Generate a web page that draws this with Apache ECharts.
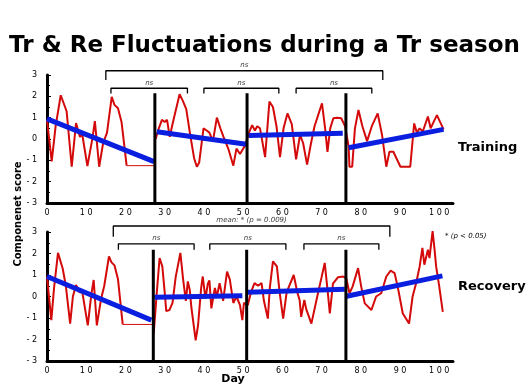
<!DOCTYPE html>
<html><head><meta charset="utf-8">
<script src="https://cdn.jsdelivr.net/npm/echarts@6/dist/echarts.min.js"></script>
<style>html,body{margin:0;padding:0;background:#fff}#c{width:529px;height:392px}</style>
</head><body><div id="c"></div>
<script>
// ---------- data (day, component score) ----------
const xTicks = [0,10,20,30,40,50,60,70,80,90,100];
const yTicks = [-3,-2,-1,0,1,2,3];

const trainRedA = [[0,0.9],[1.2,-1.05],[2.2,0.6],[3.5,2.05],[5.0,1.3],[6.3,-1.3],[7.4,0.75],[8.4,0.1],[9.0,0.2],[10.3,-1.27],[11.6,0.05],[12.2,0.84],[13.3,-1.3],[14.3,-0.2],[15.3,0.3],[16.5,1.98],[17.2,1.6],[18.1,1.44],[19.0,0.8],[20.3,-1.25]];
const trainFlat = [[20.3,-1.25],[27.3,-1.25]];
const trainRedB = [[27.7,0.0],[28.5,0.5],[29.3,0.9],[30.0,0.8],[30.6,0.9],[31.3,0.1],[32.0,0.7],[33.8,2.1],[34.6,1.8],[35.5,1.4],[36.5,0.2],[37.5,-0.9],[38.2,-1.3],[38.8,-1.1],[39.9,0.5],[40.7,0.4],[41.4,0.3],[42.3,-0.1],[43.3,1.0],[44.2,0.5],[45.0,0.1],[46.3,-0.5],[47.5,-1.25],[48.3,-0.45],[49.2,-0.7],[50.5,-0.3],[51.0,-0.3],
  [51.6,0.35],[52.3,0.65],[53.0,0.4],[53.6,0.6],[54.3,0.5],[55.6,-0.85],[56.7,1.75],[57.6,1.5],[58.5,0.6],[59.4,-0.85],[60.3,0.5],[61.3,1.2],[62.4,0.7],[63.5,-0.95],[64.5,0.2],[65.3,-0.2],[66.3,-1.2],[67.3,-0.2],[68.2,0.6],[70.1,1.67],[70.9,0.5],[71.5,-0.6],[72.2,0.5],[73.0,0.97],[74.0,1.0],[75.0,0.97],[76.0,0.6],
  [76.9,-0.36],[77.1,-1.3],[77.8,-1.3],[78.5,0.5],[79.4,1.36],[80.4,0.6],[81.6,-0.1],[82.8,0.6],[84.3,1.2],[85.4,0.2],[86.5,-1.3],[87.3,-0.6],[88.3,-0.6],[90.1,-1.3],[92.6,-1.3],[93.6,0.73],[94.3,0.3],[95.0,0.5],[95.8,0.35],[97.1,1.05],[97.8,0.5],[98.3,0.7],[99.4,1.12],[100.2,0.8],[101.1,0.45]];
const trainFits = [[0,0.94,27.3,-1.06],[28,0.34,50.8,-0.25],[51.4,0.16,75.4,0.27],[76.9,-0.41,101.1,0.45]];
const trainBreaks = [27.5,51.0,76.2];
const trainBrackets = [[15.0,85.6,'outer'],[16.3,35.8,'inner'],[40.0,59.1,'inner'],[63.5,82.8,'inner']];
const trainBracketText = ['ns','ns','ns','ns'];

const recRedA = [[0,0.93],[1.1,-1.1],[1.8,0.4],[2.8,2.03],[4.0,1.3],[4.8,0.5],[5.9,-1.26],[6.6,0.0],[7.4,0.54],[8.3,0.2],[9.0,0.2],[10.4,-1.34],[11.3,0.1],[11.9,0.77],[12.7,-1.34],[13.8,-0.1],[14.6,0.5],[15.8,1.87],[16.4,1.6],[17.2,1.45],[18.1,0.8],[19.3,-1.3]];
const recFlat = [[19.3,-1.3],[26.9,-1.3]];
const recRedB = [[27.2,-1.73],[28.0,0.2],[28.7,1.79],[29.4,1.4],[30.0,0.2],[30.4,-0.68],[31.2,-0.63],[32.0,-0.3],[32.8,0.9],[34.0,2.03],[34.7,0.8],[35.4,-0.2],[35.9,0.7],[36.4,0.3],[36.8,-0.5],[37.9,-2.04],[38.5,-1.35],[39.3,0.4],[39.7,0.93],[40.4,-0.1],[41.0,0.6],[41.4,0.75],[41.9,-0.55],[42.8,0.4],[43.3,0.0],[44.0,0.62],[44.9,-0.2],[45.9,1.16],[46.6,0.8],[47.5,-0.3],[48.3,0.0],[49.2,-0.4],[49.8,-1.1],[50.2,-0.3],
  [51.2,-0.4],[52.0,0.2],[52.9,0.62],[53.8,0.5],[54.7,0.62],[55.3,-0.2],[56.3,-1.03],[56.8,0.4],[57.6,1.63],[58.6,1.4],[59.3,0.2],[60.2,-1.03],[61.1,0.2],[62.9,1.0],[63.8,0.2],[64.4,-0.16],[64.8,-0.95],[65.6,-0.16],[66.1,-0.6],[67.4,-1.26],[68.7,-0.16],[70.0,0.9],[70.8,1.56],[71.6,0.16],[72.1,-0.79],[72.9,0.6],[74.2,0.9],[75.5,0.93],[76.3,0.85],
  [77.1,0.15],[77.9,0.46],[79.3,1.32],[80.1,0.46],[81.0,-0.32],[82.7,-0.63],[83.9,0.0],[85.2,0.15],[86.5,0.93],[87.6,1.2],[88.6,1.09],[89.4,0.46],[90.7,-0.79],[92.3,-1.26],[93.2,0.0],[94.1,0.62],[95.0,1.4],[95.7,2.26],[96.2,1.48],[97.1,2.18],[97.5,1.79],[98.3,3.04],[98.8,2.18],[99.2,1.4],[100.0,0.46],[100.9,-0.71]];
const recFits = [[0,0.93,26.6,-1.1],[27.4,-0.04,49.8,0.04],[51.2,0.2,75.9,0.34],[76.1,0.0,100.8,0.96]];
const recBreaks = [27.1,50.9,76.2];
const recBrackets = [[16.9,87.4,'outer'],[18.2,37.5,'inner'],[41.5,60.9,'inner'],[65.5,84.6,'inner']];
const recBracketText = ['mean: * (p = 0.009)','ns','ns','ns'];

// ---------- styling ----------
const RED = '#d40a0a', BLUE = '#0a1ee0', FONT = 'DejaVu Sans';
const fmt = v => String(v).split('').join(' ');
const chart = echarts.init(document.getElementById('c'));

function xAxis(gi){ return {type:'value', gridIndex:gi, min:0, max:103.5, interval:10,
  axisLine:{show:true, onZero:false, lineStyle:{color:'#000', width:3}}, axisTick:{show:false}, splitLine:{show:false},
  axisLabel:{formatter:fmt, showMaxLabel:false, fontSize:8, color:'#000', margin:6, fontFamily:FONT}}; }
function yAxis(gi){ return {type:'value', gridIndex:gi, min:-3, max:3, interval:1,
  axisLine:{show:true, onZero:false, lineStyle:{color:'#000', width:3}},
  axisTick:{show:true, inside:true, length:4, lineStyle:{color:'#000'}},
  minorTick:{show:true, splitNumber:2, length:3, lineStyle:{color:'#000'}},
  splitLine:{show:false},
  axisLabel:{formatter:fmt, fontSize:8, color:'#000', margin:10, fontFamily:FONT}}; }

function panelSeries(gi, redA, flat, redB, fits, breaks, brackets, texts, lv){
  const s = [];
  const base = {xAxisIndex:gi, yAxisIndex:gi, symbol:'none', silent:true, animation:false};
  s.push(Object.assign({type:'line', data:redA, lineStyle:{color:RED, width:2}, z:2}, base));
  s.push(Object.assign({type:'line', data:flat, lineStyle:{color:RED, width:1}, z:2}, base));
  s.push(Object.assign({type:'line', data:redB, lineStyle:{color:RED, width:2}, z:2}, base));
  fits.forEach(f => s.push(Object.assign({type:'line', data:[[f[0],f[1]],[f[2],f[3]]], lineStyle:{color:BLUE, width:5}, z:3}, base)));
  breaks.forEach(d => s.push(Object.assign({type:'line', data:[[d,-3],[d,lv.bar]], lineStyle:{color:'#000', width:3}, z:4}, base)));
  const labels = [];
  brackets.forEach((b,i) => {
    const top = b[2]==='outer' ? lv.outerTop : lv.innerTop;
    const foot = b[2]==='outer' ? lv.outerFoot : lv.innerFoot;
    s.push(Object.assign({type:'line', clip:false, data:[[b[0],foot],[b[0],top],[b[1],top],[b[1],foot]], lineStyle:{color:'#000', width:1.3}, z:4}, base));
    labels.push([(b[0]+b[1])/2, top, texts[i]]);
  });
  s.push({type:'scatter', xAxisIndex:gi, yAxisIndex:gi, clip:false, symbolSize:0, silent:true, animation:false, data:labels,
    label:{show:true, position:'top', distance:2, formatter:p=>p.data[2], fontSize:7, fontStyle:'italic', color:'#000', fontFamily:FONT}});
  return s;
}

const lvTop = {bar:2.15, outerTop:3.2, outerFoot:2.77, innerTop:2.38, innerFoot:2.13};
const lvBot = {bar:2.18, outerTop:3.28, outerFoot:2.78, innerTop:2.45, innerFoot:2.18};

chart.setOption({
  backgroundColor:'#fff',
  animation:false,
  title:{text:'Tr & Re Fluctuations during a Tr season', left:'center', top:30,
    textStyle:{fontSize:23, fontWeight:'bold', color:'#000', fontFamily:FONT}},
  grid:[{left:47, top:75, width:406, height:128},{left:47, top:232, width:406, height:129}],
  xAxis:[xAxis(0), xAxis(1)],
  yAxis:[yAxis(0), yAxis(1)],
  series:[].concat(
    panelSeries(0, trainRedA, trainFlat, trainRedB, trainFits, trainBreaks, trainBrackets, trainBracketText, lvTop),
    panelSeries(1, recRedA, recFlat, recRedB, recFits, recBreaks, recBrackets, recBracketText, lvBot)),
  graphic:[
    {type:'text', x:458, y:148, style:{text:'Training', fill:'#000', font:'bold 13px "DejaVu Sans"', verticalAlign:'middle'}},
    {type:'text', x:458, y:287, style:{text:'Recovery', fill:'#000', font:'bold 13px "DejaVu Sans"', verticalAlign:'middle'}},
    {type:'text', x:445, y:236, style:{text:'* (p < 0.05)', fill:'#000', font:'italic 7px "DejaVu Sans"', verticalAlign:'middle'}},
    {type:'text', x:233, y:379, style:{text:'Day', fill:'#000', font:'bold 11px "DejaVu Sans"', align:'center', verticalAlign:'middle'}},
    {type:'text', x:18, y:214, rotation:Math.PI/2, style:{text:'Componenet score', fill:'#000', font:'bold 10px "DejaVu Sans"', align:'center', verticalAlign:'middle'}}
  ]
});
</script></body></html>
